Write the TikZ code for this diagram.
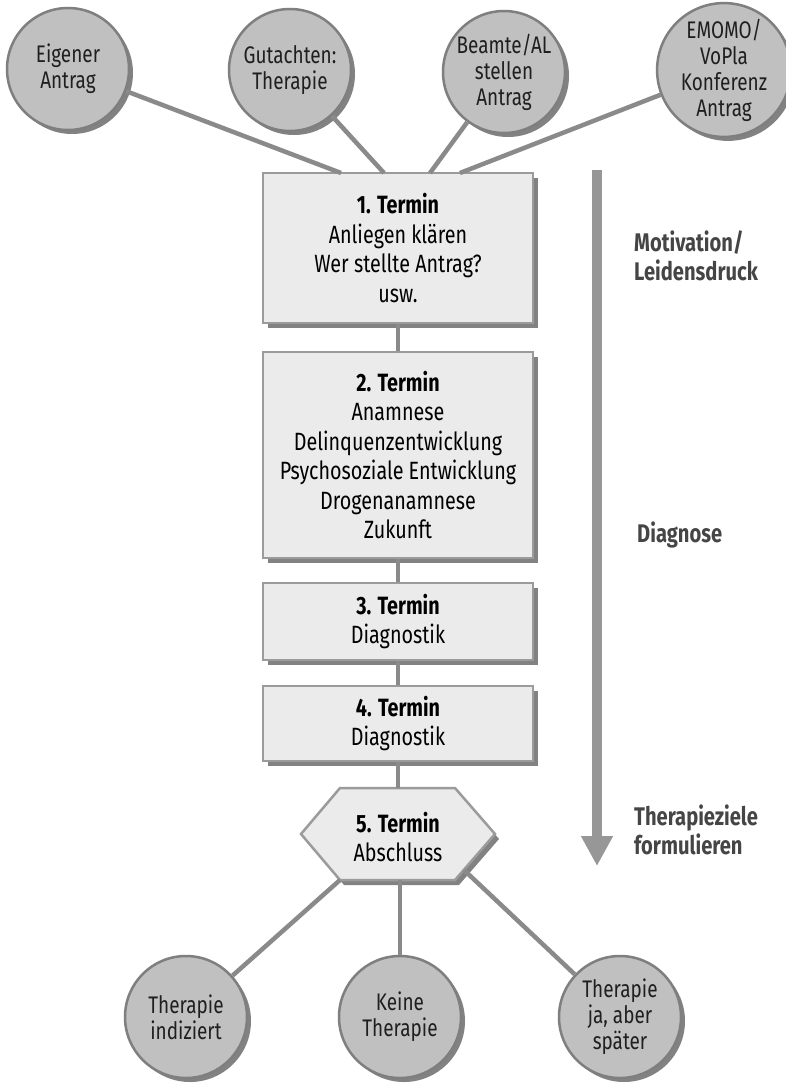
\documentclass[tikz,border=0pt]{standalone}
\usepackage{fontspec}
\setmainfont{Fira Sans}[FakeStretch=0.79]
\usetikzlibrary{shadows,arrows.meta}
\definecolor{circfill}{HTML}{C0C0C0}
\definecolor{circline}{HTML}{7F7F7F}
\definecolor{shadowc}{HTML}{828282}
\definecolor{boxfill}{HTML}{EBEBEB}
\definecolor{boxline}{HTML}{9B9B9B}
\definecolor{connc}{HTML}{8A8A8A}
\definecolor{arrowc}{HTML}{979797}
\definecolor{labelc}{HTML}{454545}
\newcommand\circfnt{\fontsize{24}{26}\selectfont}
\newcommand\boxfnt{\fontsize{25}{29.5}\selectfont}
\newcommand\labfnt{\fontsize{25.5}{29.5}\selectfont\bfseries}
\tikzset{
  circ/.style={circle, minimum size=122pt, inner sep=0pt, fill=circfill,
    draw=circline, line width=2.5pt, align=center, font=\circfnt, text=black!88,
    drop shadow={shadow xshift=4pt, shadow yshift=-4pt, fill=shadowc, opacity=1}},
  termbox/.style={rectangle, minimum width=270pt, inner sep=0pt, fill=boxfill,
    draw=boxline, line width=2.5pt, align=center, font=\boxfnt, text=black,
    drop shadow={shadow xshift=5pt, shadow yshift=-5pt, fill=shadowc, opacity=1}},
  hexline/.style={fill=boxfill, draw=boxline, line width=2.5pt, line join=miter},
  hexshadow/.style={fill=shadowc, draw=none},
  conn/.style={draw=connc, line width=4.5pt},
  sidearrow/.style={draw=arrowc, line width=10pt, -{Triangle[width=30pt,length=30pt]}},
  sidelabel/.style={anchor=west, align=left, font=\labfnt, text=labelc, inner sep=0pt}
}
\begin{document}
\begin{tikzpicture}[x=1pt,y=-1pt]
\useasboundingbox (0,0) rectangle (786,1086);
\fill[white] (0,0) rectangle (786,1086);

% top circles
\node[circ] (c1) at (68,69) {Eigener\\Antrag};
\node[circ] (c2) at (290,70) {Gutachten:\\Therapie};
\node[circ] (c3) at (504,72) {Beamte/AL\\stellen\\Antrag};
\node[circ] (c4) at (724,70) {EMOMO/\\VoPla\\Konferenz\\Antrag};

% boxes
\node[termbox, minimum height=150pt] (b1) at (398,248) {\textbf{1. Termin}\\Anliegen klären\\Wer stellte Antrag?\\usw.};
\node[termbox, minimum height=206pt] (b2) at (398,455) {\textbf{2. Termin}\\Anamnese\\Delinquenzentwicklung\\Psychosoziale Entwicklung\\Drogenanamnese\\Zukunft};
\node[termbox, minimum height=77pt] (b3) at (398,621.5) {\textbf{3. Termin}\\Diagnostik};
\node[termbox, minimum height=75pt] (b4) at (398,723.5) {\textbf{4. Termin}\\Diagnostik};

% hexagon
\path[hexshadow] (305,839) -- (344,793) -- (459,793) -- (499,839) -- (459,885) -- (344,885) -- cycle;
\path[hexline] (301,834) -- (340,788) -- (455,788) -- (495,834) -- (455,880) -- (340,880) -- cycle;
\node[align=center, font=\boxfnt, inner sep=0pt] (h) at (398,837) {\textbf{5. Termin}\\Abschluss};
\coordinate (ht) at (398,788);
\coordinate (hl) at (340,880);
\coordinate (hb) at (400,880);
\coordinate (hr) at (464,870);

% bottom circles
\node[circ] (d1) at (186,1017) {Therapie\\indiziert};
\node[circ] (d2) at (400,1017) {Keine\\Therapie};
\node[circ] (d3) at (620,1017) {Therapie\\ja, aber\\später};

% junction points on top of box 1
\coordinate (j1) at (341,173);
\coordinate (j2) at (384,173);
\coordinate (j3) at (430,173);
\coordinate (j4) at (460,173);

% connectors
\draw[conn] (c1) -- (j1);
\draw[conn] (c2) -- (j2);
\draw[conn] (c3) -- (j3);
\draw[conn] (c4) -- (j4);
\draw[conn] (b1) -- (b2);
\draw[conn] (b2) -- (b3);
\draw[conn] (b3) -- (b4);
\draw[conn] (b4) -- (ht);
\draw[conn] (hl) -- (d1);
\draw[conn] (hb) -- (d2);
\draw[conn] (hr) -- (d3);

% side arrow and labels
\coordinate (at) at (597,170);
\coordinate (ab) at (597,866);
\draw[sidearrow] (at) -- (ab);
\node[sidelabel] (l1) at (634,256) {Motivation/\\Leidensdruck};
\node[sidelabel] (l2) at (637,535) {Diagnose};
\node[sidelabel] (l3) at (634,830) {Therapieziele\\formulieren};
\end{tikzpicture}
\end{document}
